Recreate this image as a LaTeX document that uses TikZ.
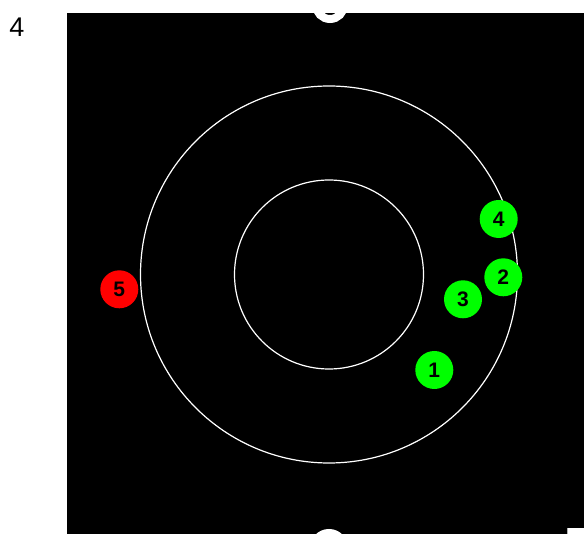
\documentclass[tikz,border=0pt]{standalone}
\usepackage{fontspec}
\setmainfont{Liberation Sans}
\definecolor{hitgreen}{RGB}{0,255,0}
\definecolor{hitred}{RGB}{255,0,0}
\begin{document}
\begin{tikzpicture}[x=1pt,y=-1pt,
  marker/.style={circle,minimum size=38pt,inner sep=0pt,font=\fontsize{21}{21}\selectfont\bfseries,text=black},
  ring/.style={draw=white,line width=1.2pt}]
\useasboundingbox (0,0) rectangle (584,534);
\fill[black] (67,13) rectangle (584,534);
\begin{scope}
  \clip (67,13) rectangle (584,534);
  \draw[white,line width=8pt] (330,5) circle[radius=14];
  \draw[white,line width=8pt] (329,548) circle[radius=15];
\end{scope}
\fill[white] (567,528) rectangle (584,534);
\draw[gray!60,line width=0.6pt] (567.3,528) -- (567.3,534);
\coordinate (c) at (329,274.5);
\draw[ring] (c) circle[radius=188.5];
\draw[ring] (c) circle[radius=94.5];
\node[font=\fontsize{27}{27}\selectfont] (lab) at (17,27) {4};
\node[marker,fill=hitgreen] (m1) at (434.3,370) {1};
\node[marker,fill=hitgreen] (m2) at (503.3,277.3) {2};
\node[marker,fill=hitgreen] (m3) at (463,299.3) {3};
\node[marker,fill=hitgreen] (m4) at (498.7,219) {4};
\node[marker,fill=hitred] (m5) at (119.3,289.3) {5};
\end{tikzpicture}
\end{document}
